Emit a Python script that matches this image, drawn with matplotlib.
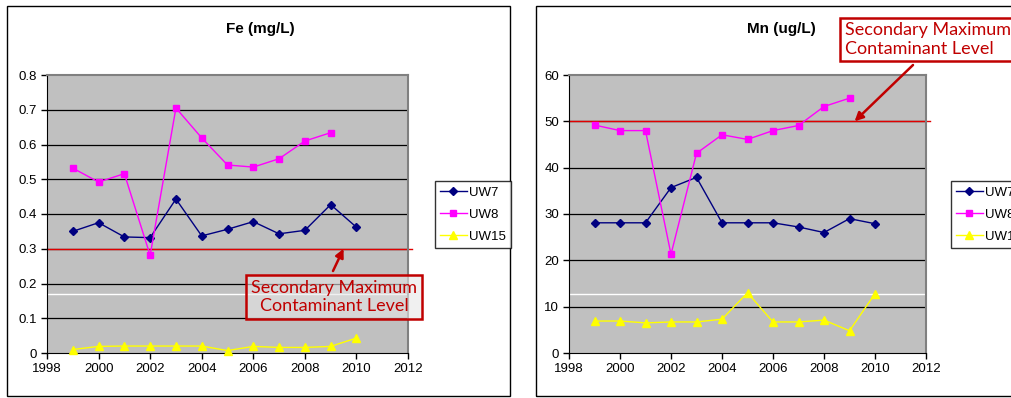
import matplotlib
matplotlib.use("Agg")
import matplotlib.pyplot as plt
from matplotlib.patches import Rectangle

years = [1999, 2000, 2001, 2002, 2003, 2004, 2005, 2006, 2007, 2008, 2009, 2010]

fe_uw7 = [0.350, 0.375, 0.334, 0.332, 0.443, 0.337, 0.356, 0.378, 0.343, 0.353, 0.427, 0.362]
fe_uw8 = [0.532, 0.492, 0.516, 0.281, 0.705, 0.619, 0.541, 0.535, 0.559, 0.610, 0.634, None]
fe_uw15 = [0.010, 0.019, 0.020, 0.020, 0.020, 0.020, 0.007, 0.019, 0.016, 0.016, 0.019, 0.043]

mn_uw7 = [28.1, 28.1, 28.1, 35.7, 37.9, 28.1, 28.1, 28.1, 27.2, 26.0, 29.0, 27.9]
mn_uw8 = [49.2, 48.0, 48.0, 21.3, 43.1, 47.1, 46.1, 48.0, 49.1, 53.2, 55.0, None]
mn_uw15 = [6.9, 6.9, 6.5, 6.7, 6.7, 7.3, 13.0, 6.7, 6.7, 7.1, 4.8, 12.8]

series_names = ["UW7", "UW8", "UW15"]
fe_smcl = 0.3
mn_smcl = 50
fe_white = 0.17
mn_white = 12.7
x_ticks = [1998, 2000, 2002, 2004, 2006, 2008, 2010, 2012]
fe_ticks = [0, 0.1, 0.2, 0.3, 0.4, 0.5, 0.6, 0.7, 0.8]
fe_ticklabels = ["0", "0.1", "0.2", "0.3", "0.4", "0.5", "0.6", "0.7", "0.8"]
mn_ticks = [0, 10, 20, 30, 40, 50, 60]

W, H = 1012, 398
fig = plt.figure(figsize=(W / 100, H / 100), dpi=100)
fig.patch.set_facecolor("white")
plt.rcParams["font.family"] = ["Liberation Sans", "DejaVu Sans"]


def fx(px):
    return px / W


def fy(py):
    return 1 - py / H


# outer frames
fig.patches.append(Rectangle((fx(7.5), fy(396)), fx(510 - 7.5), (396 - 5.5) / H,
                             transform=fig.transFigure, fill=False, ec="black", lw=1.0))
fig.patches.append(Rectangle((fx(536), fy(396)), fx(1030 - 536), (396 - 5.5) / H,
                             transform=fig.transFigure, fill=False, ec="black", lw=1.0))

styles = [
    dict(color="#000080", marker="D", markersize=4.0),
    dict(color="#FF00FF", marker="s", markersize=4.8),
    dict(color="#FFFF00", marker="^", markersize=5.5),
]


def make_axes(left, right, top, bottom, data, ylim, yticks, yticklabels, title, title_x, smcl, white, legend_x):
    ax = fig.add_axes([fx(left), fy(bottom), fx(right - left), (bottom - top) / H])
    ax.set_facecolor("#C0C0C0")
    ax.set_xlim(1998, 2012)
    ax.set_ylim(*ylim)
    ax.set_xticks(x_ticks)
    ax.set_yticks(yticks)
    ax.set_yticklabels(yticklabels)
    ax.tick_params(direction="out", length=4, width=1, labelsize=9.5, colors="black", pad=3)
    for t in yticks[1:-1]:
        ax.axhline(t, color="black", lw=0.9, zorder=1)
    ax.axhline(white, color="white", lw=1.0, zorder=1)
    ax.spines["left"].set_color("black")
    ax.spines["bottom"].set_color("black")
    ax.spines["top"].set_color("#808080")
    ax.spines["right"].set_color("#808080")
    ax.spines["top"].set_linewidth(1.5)
    ax.spines["right"].set_linewidth(1.5)
    lines = []
    for vals, st, name in zip(data, styles, series_names):
        xs = [x for x, v in zip(years, vals) if v is not None]
        ys = [v for v in vals if v is not None]
        ln, = ax.plot(xs, ys, color=st["color"], marker=st["marker"], markersize=st["markersize"],
                      lw=1.0, label=name, zorder=3, clip_on=False)
        lines.append(ln)
    ax.axhline(smcl, color="#E00000", lw=1.0, zorder=2, xmax=1.012, clip_on=False)
    fig.text(fx(title_x), fy(29), title, ha="center", va="center", fontsize=11, fontweight="bold")
    leg = fig.legend(handles=lines, loc="upper left",
                     bbox_to_anchor=(fx(legend_x), fy(181)), bbox_transform=fig.transFigure,
                     fontsize=9.5, frameon=True, fancybox=False, edgecolor="black",
                     handlelength=2.0, handletextpad=0.2, labelspacing=0.75,
                     borderpad=0.4, borderaxespad=0)
    leg.get_frame().set_linewidth(1.0)
    return ax


ax1 = make_axes(47, 408, 75, 353, [fe_uw7, fe_uw8, fe_uw15], (0, 0.8), fe_ticks, fe_ticklabels,
                "Fe (mg/L)", 260, fe_smcl, fe_white, 435)
ax2 = make_axes(569, 926, 75, 353, [mn_uw7, mn_uw8, mn_uw15], (0, 60), mn_ticks,
                [str(t) for t in mn_ticks], "Mn (ug/L)", 781, mn_smcl, mn_white, 951)

note = "Secondary Maximum\nContaminant Level"
red = "#C00000"
arrow_kw = dict(arrowstyle="-|>,head_length=0.5,head_width=0.25", color=red, lw=1.8,
                shrinkA=0, shrinkB=0)

# left annotation: box text + arrow
t1 = fig.text(fx(334), fy(297), note, ha="center", va="center", multialignment="center",
              fontsize=13, color=red, family=["Lato", "DejaVu Sans"], linespacing=1.2,
              bbox=dict(boxstyle="square,pad=0.25", fc=(0.9, 0.9, 0.9, 0.6), ec=red, lw=1.8),
              zorder=5)
ax1.annotate("", xy=(2009.5, fe_smcl), xycoords="data",
             xytext=(fx(333), fy(271)), textcoords="figure fraction",
             arrowprops=arrow_kw, zorder=5, annotation_clip=False)

# right annotation
t2 = fig.text(fx(845), fy(39.5), note, ha="left", va="center", multialignment="left",
              fontsize=13, color=red, family=["Lato", "DejaVu Sans"], linespacing=1.2,
              bbox=dict(boxstyle="square,pad=0.25", fc="white", ec=red, lw=1.8),
              zorder=5)
ax2.annotate("", xy=(2009.2, mn_smcl), xycoords="data",
             xytext=(fx(913), fy(65)), textcoords="figure fraction",
             arrowprops=arrow_kw, zorder=5, annotation_clip=False)

fig.savefig("out.png", dpi=100)
